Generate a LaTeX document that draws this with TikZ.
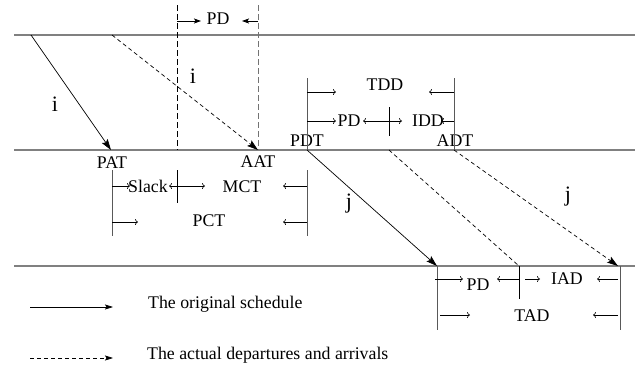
\documentclass[tikz,border=0pt]{standalone}
\usepackage{fontspec}
\setmainfont{Liberation Serif}
\usetikzlibrary{arrows.meta}
\begin{document}
\begin{tikzpicture}[x=1pt,y=-1pt,
  track/.style={draw=black!50, line width=1.5pt},
  bar/.style={draw=black!65, line width=1pt},
  guide/.style={draw=black, line width=0.8pt, dash pattern=on 6pt off 3pt},
  guidegray/.style={guide, draw=black!55},
  train/.style={draw=black, line width=0.7pt, -{Stealth[length=11pt,width=7pt,inset=2pt]}},
  trainlate/.style={train, dash pattern=on 4pt off 3pt},
  latenotip/.style={draw=black, line width=0.7pt, dash pattern=on 4pt off 3pt},
  topdim/.style={draw=black, line width=0.8pt, -{Stealth[length=7pt,width=5pt,inset=1.5pt]}},
  dimarr/.style={draw=black, line width=0.6pt, -{To[length=3pt,width=6pt]}},
  lbl/.style={font=\fontsize{17.8}{21}\selectfont, inner sep=0pt},
  big/.style={font=\fontsize{22}{26}\selectfont, inner sep=0pt},
  ]
\useasboundingbox (0,0) rectangle (638,373);
% tracks
\coordinate (t1a) at (14,35);  \coordinate (t1b) at (635,35);
\coordinate (t2a) at (14,150); \coordinate (t2b) at (635,150);
\coordinate (t3a) at (14,266); \coordinate (t3b) at (635,266);
\draw[track] (t1a) -- (t1b);
\draw[track] (t2a) -- (t2b);
\draw[track] (t3a) -- (t3b);
% guides
\coordinate (g1a) at (177,5); \coordinate (g1b) at (177,150);
\coordinate (g2a) at (258,5); \coordinate (g2b) at (258,150);
\draw[guide] (g1a) -- (g1b);
\draw[guidegray] (g2a) -- (g2b);
% train i
\coordinate (iS) at (31,35);  \coordinate (PATp) at (111,150);
\coordinate (iD) at (112,35); \coordinate (AATp) at (258,150);
\draw[train] (iS) -- (PATp);
\draw[trainlate] (iD) -- (AATp);
\node[big] (i1) at (55,104) {i};
\node[big] (i2) at (193,76) {i};
% top PD
\node[lbl] (pdtop) at (218,19) {PD};
\coordinate (pt1) at (177,21); \coordinate (pt1e) at (201,21);
\coordinate (pt2) at (258,21); \coordinate (pt2e) at (242,21);
\draw[topdim] (pt1) -- (pt1e);
\draw[topdim] (pt2) -- (pt2e);
% station labels
\node[lbl] (PAT) at (112,163) {PAT};
\node[lbl] (AAT) at (258,162) {AAT};
\node[lbl] (PDT) at (307,141) {PDT};
\node[lbl] (ADT) at (455,141) {ADT};
% connection bracket
\coordinate (cb1a) at (112,170); \coordinate (cb1b) at (112,236);
\coordinate (cb2a) at (307,170); \coordinate (cb2b) at (307,236);
\coordinate (cb3a) at (177,170); \coordinate (cb3b) at (177,203);
\draw[bar] (cb1a) -- (cb1b);
\draw[bar] (cb2a) -- (cb2b);
\draw[draw=black, line width=0.8pt] (cb3a) -- (cb3b);
\node[lbl] (slack) at (148,186) {Slack};
\node[lbl] (MCT) at (242,187) {MCT};
\node[lbl] (PCT) at (209,221) {PCT};
\coordinate (s1) at (112,186); \coordinate (s1e) at (130,186);
\coordinate (s2) at (177,186); \coordinate (s2e) at (169,186);
\coordinate (s3e) at (205,186);
\coordinate (s4) at (307,186); \coordinate (s4e) at (283,186);
\draw[dimarr] (s1) -- (s1e);
\draw[dimarr] (s2) -- (s2e);
\draw[dimarr] (s2) -- (s3e);
\draw[dimarr] (s4) -- (s4e);
\coordinate (p1) at (112,222); \coordinate (p1e) at (138,222);
\coordinate (p2) at (307,222); \coordinate (p2e) at (283,222);
\draw[dimarr] (p1) -- (p1e);
\draw[dimarr] (p2) -- (p2e);
% departure bracket
\coordinate (db1a) at (307,78); \coordinate (db1b) at (307,150);
\coordinate (db2a) at (454,78); \coordinate (db2b) at (454,150);
\coordinate (db3a) at (389,107); \coordinate (db3b) at (389,136);
\draw[bar] (db1a) -- (db1b);
\draw[bar] (db2a) -- (db2b);
\draw[draw=black, line width=0.8pt] (db3a) -- (db3b);
\node[lbl] (TDD) at (385,85) {TDD};
\node[lbl] (pdmid) at (349,121) {PD};
\node[lbl] (IDD) at (428,121) {IDD};
\coordinate (d1) at (307,92); \coordinate (d1e) at (336,92);
\coordinate (d2) at (454,92); \coordinate (d2e) at (429,92);
\draw[dimarr] (d1) -- (d1e);
\draw[dimarr] (d2) -- (d2e);
\coordinate (e1) at (307,121); \coordinate (e1e) at (336,121);
\coordinate (e2) at (389,121); \coordinate (e2e) at (363,121);
\coordinate (e3e) at (402,121);
\coordinate (e4) at (454,121); \coordinate (e4e) at (441,121);
\draw[dimarr] (e1) -- (e1e);
\draw[dimarr] (e2) -- (e2e);
\draw[dimarr] (e2) -- (e3e);
\draw[dimarr] (e4) -- (e4e);
% train j
\coordinate (PATj) at (437,266);
\coordinate (jD2) at (389,150); \coordinate (jD2e) at (519,266);
\coordinate (AATj) at (618,266);
\draw[train] (db1b) -- (PATj);
\draw[latenotip] (jD2) -- (jD2e);
\draw[trainlate] (db2b) -- (AATj);
\node[big] (j1) at (349,204) {j};
\node[big] (j2) at (568,197) {j};
% arrival bracket
\coordinate (ab1a) at (437,266); \coordinate (ab1b) at (437,330);
\coordinate (ab2a) at (620,266); \coordinate (ab2b) at (620,330);
\coordinate (ab3a) at (519,266); \coordinate (ab3b) at (519,299);
\draw[bar] (ab1a) -- (ab1b);
\draw[bar] (ab2a) -- (ab2b);
\draw[draw=black, line width=0.8pt] (ab3a) -- (ab3b);
\node[lbl] (pdbot) at (478,285) {PD};
\node[lbl] (IAD) at (567,279) {IAD};
\node[lbl] (TAD) at (532,316) {TAD};
\coordinate (a1) at (435,279); \coordinate (a1e) at (463,279);
\coordinate (a2) at (519,279); \coordinate (a2e) at (497,279);
\coordinate (a3) at (525,279); \coordinate (a3e) at (540,279);
\coordinate (a4) at (618,279); \coordinate (a4e) at (597,279);
\draw[dimarr] (a1) -- (a1e);
\draw[dimarr] (a2) -- (a2e);
\draw[dimarr] (a3) -- (a3e);
\draw[dimarr] (a4) -- (a4e);
\coordinate (b1) at (440,315); \coordinate (b1e) at (470,315);
\coordinate (b2) at (618,315); \coordinate (b2e) at (593,315);
\draw[dimarr] (b1) -- (b1e);
\draw[dimarr] (b2) -- (b2e);
% legend
\coordinate (l1) at (30,307); \coordinate (l1e) at (113,307);
\coordinate (l2) at (30,358); \coordinate (l2e) at (113,358);
\draw[draw=black, line width=0.7pt, -{Stealth[length=8pt,width=5pt,inset=1.5pt]}] (l1) -- (l1e);
\draw[draw=black, line width=0.7pt, dash pattern=on 4pt off 3pt, -{Stealth[length=8pt,width=5pt,inset=1.5pt]}] (l2) -- (l2e);
\node[lbl, anchor=west] (leg1) at (148,304) {The original schedule};
\node[lbl, anchor=west] (leg2) at (147,355) {The actual departures and arrivals};
\end{tikzpicture}
\end{document}
